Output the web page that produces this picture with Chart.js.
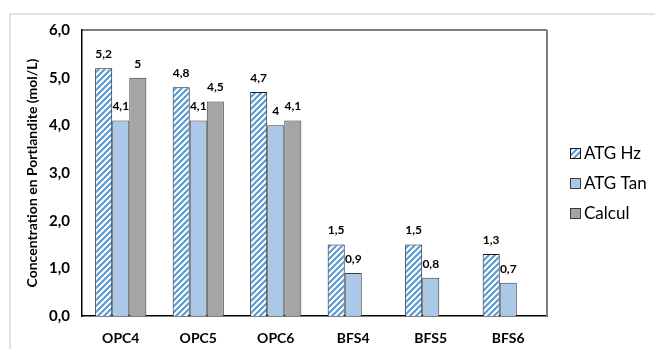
<!DOCTYPE html>
<html>
<head>
<meta charset="utf-8">
<script src="https://cdn.jsdelivr.net/npm/chart.js@4.4.1/dist/chart.umd.min.js"></script>
<style>
  html, body { margin: 0; padding: 0; background: #fff; }
  #wrap { width: 655px; height: 349px; position: relative; }
</style>
</head>
<body>
<div id="wrap"><canvas id="portlanditeChart" width="655" height="349"></canvas></div>
<script>
var categories = ["OPC4", "OPC5", "OPC6", "BFS4", "BFS5", "BFS6"];
var atgHz = [5.2, 4.8, 4.7, 1.5, 1.5, 1.3];
var atgTan = [4.1, 4.1, 4.0, 0.9, 0.8, 0.7];
var calcul = [5.0, 4.5, 4.1, null, null, null];
var seriesNames = ["ATG Hz", "ATG Tan", "Calcul"];
var yTicks = [0, 1, 2, 3, 4, 5, 6];

function stripes() {
    var c = document.createElement("canvas");
    c.width = 6;
    c.height = 6;
    var g = c.getContext("2d");
    g.fillStyle = "#ffffff";
    g.fillRect(0, 0, 6, 6);
    g.strokeStyle = "#5b9bd5";
    g.lineWidth = 2.2;
    g.beginPath();
    g.moveTo(-3, 9); g.lineTo(9, -3);
    g.moveTo(-9, 9); g.lineTo(3, -3);
    g.moveTo(3, 9); g.lineTo(15, -3);
    g.stroke();
    return g.createPattern(c, "repeat");
}

var hatch = stripes();
var comma = function (v) { return String(v).replace(".", ","); };

// outer frame + plot frame (top & right)
var framePlugin = {
    id: "frame",
    beforeDraw: function (chart) {
        var ctx = chart.ctx;
        ctx.save();
        ctx.strokeStyle = "#d9d9d9";
        ctx.lineWidth = 1.5;
        ctx.beginPath();
        ctx.moveTo(10, 349);
        ctx.lineTo(10, 14);
        ctx.lineTo(655, 14);
        ctx.stroke();
        ctx.restore();
    },
    afterDraw: function (chart) {
        var a = chart.chartArea, ctx = chart.ctx;
        ctx.save();
        ctx.strokeStyle = "#000";
        ctx.lineWidth = 1.2;
        ctx.beginPath();
        ctx.moveTo(a.left, a.top);
        ctx.lineTo(a.right, a.top);
        ctx.stroke();
        ctx.strokeStyle = "#7f7f7f";
        ctx.lineWidth = 2;
        ctx.beginPath();
        ctx.moveTo(a.right, a.top);
        ctx.lineTo(a.right, a.bottom);
        ctx.stroke();
        ctx.restore();
    }
};

// value labels above the bars
var labelPlugin = {
    id: "barLabels",
    afterDatasetsDraw: function (chart) {
        var ctx = chart.ctx;
        ctx.save();
        ctx.font = "bold 12px Lato";
        ctx.fillStyle = "#000";
        ctx.textAlign = "center";
        ctx.textBaseline = "middle";
        chart.data.datasets.forEach(function (ds, i) {
            chart.getDatasetMeta(i).data.forEach(function (el, j) {
                var v = ds.data[j];
                if (v === null) return;
                ctx.fillText(comma(v), el.x, el.y - 14);
            });
        });
        ctx.restore();
    }
};

// legend on the right
var legendPlugin = {
    id: "sideLegend",
    afterDraw: function (chart) {
        var ctx = chart.ctx;
        ctx.save();
        ctx.font = "17px Lato";
        ctx.textBaseline = "middle";
        chart.data.datasets.forEach(function (ds, i) {
            var y = 153 + i * 30;
            ctx.fillStyle = ds.backgroundColor;
            ctx.fillRect(570, y - 5, 10, 10);
            ctx.strokeStyle = ds.borderColor;
            ctx.lineWidth = 1;
            ctx.strokeRect(570.5, y - 4.5, 10, 10);
            ctx.fillStyle = "#000";
            ctx.fillText(ds.label, 584, y + 1);
        });
        ctx.restore();
    }
};

new Chart("portlanditeChart", {
    type: "bar",
    data: {
        labels: categories,
        datasets: [{
            label: seriesNames[0],
            data: atgHz,
            backgroundColor: hatch,
            borderColor: "#1a1a1a",
            borderWidth: 1
        }, {
            label: seriesNames[1],
            data: atgTan,
            backgroundColor: "#abc8e8",
            borderColor: "#3a3a3a",
            borderWidth: 1
        }, {
            label: seriesNames[2],
            data: calcul,
            backgroundColor: "#a5a5a5",
            borderColor: "#3a3a3a",
            borderWidth: 1
        }]
    },
    options: {
        responsive: false,
        animation: false,
        layout: {
            padding: { left: 0, top: 30, right: 108, bottom: 0 }
        },
        datasets: {
            bar: {
                categoryPercentage: 0.66,
                barPercentage: 1
            }
        },
        plugins: {
            legend: { display: false },
            tooltip: { enabled: false }
        },
        scales: {
            x: {
                grid: { display: false, drawTicks: false },
                border: { color: "#000", width: 1.5 },
                ticks: {
                    color: "#000",
                    font: { family: "Lato", size: 14, weight: "bold" },
                    padding: 14
                },
                afterFit: function (s) { s.height = 33; }
            },
            y: {
                min: 0,
                max: 6,
                afterBuildTicks: function (s) {
                    s.ticks = yTicks.map(function (v) { return { value: v }; });
                },
                grid: { display: false, drawTicks: false },
                border: { color: "#000", width: 1.5 },
                ticks: {
                    color: "#000",
                    font: { family: "Lato", size: 15, weight: "bold" },
                    padding: 12,
                    callback: function (v) { return comma(v.toFixed(1)); }
                },
                title: {
                    display: true,
                    text: "Concentration en Portlandite (mol/L)",
                    color: "#000",
                    font: { family: "Lato", size: 14, weight: "bold" },
                    padding: { top: 24 }
                },
                afterFit: function (s) { s.width = 82; }
            }
        }
    },
    plugins: [framePlugin, labelPlugin, legendPlugin]
});
</script>
</body>
</html>
